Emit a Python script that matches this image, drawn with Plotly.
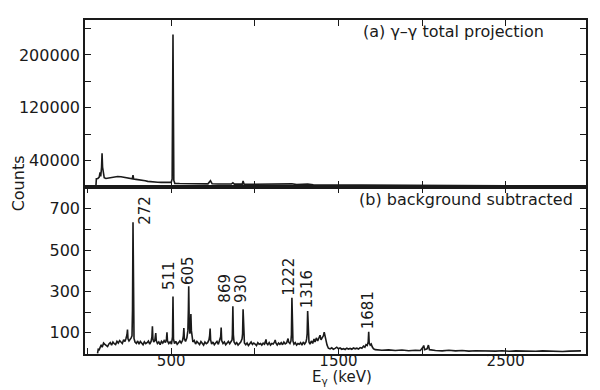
import plotly.graph_objects as go

# ---------------- data ----------------
# (a) gamma-gamma total projection
energy_a = [50, 53, 62, 70, 75, 79, 84, 87, 90, 94,
            100, 110, 125, 140, 160, 180, 200, 220, 240, 260,
            268, 272, 276, 290, 310, 330, 345, 360, 380, 400,
            420, 440, 460, 480, 500, 506, 511, 516, 522, 550,
            580, 600, 605, 640, 680, 720, 735, 745, 780, 820,
            860, 869, 878, 900, 925, 930, 936, 980, 1050, 1150,
            1222, 1250, 1316, 1350, 1450, 1550, 1681, 1750, 1900, 2100,
            2300, 2500, 2700, 2950]
counts_a = [0, 12500, 13000, 15000, 22000, 16000, 30000, 51000, 30000, 19000,
            14000, 13000, 13500, 14500, 15500, 16000, 15500, 14500, 13000, 12000,
            12500, 18000, 12000, 11500, 11000, 10500, 9500, 8500, 7800, 7500,
            7200, 7000, 6800, 6800, 7000, 12000, 231000, 10000, 5500, 5200,
            5000, 6000, 5200, 5000, 4800, 4800, 9500, 4800, 4600, 4500,
            4500, 6500, 4400, 4300, 4400, 9000, 4300, 4100, 4000, 3800,
            4800, 3600, 4300, 3400, 3200, 3000, 3200, 2800, 2600, 2400,
            2200, 2000, 1900, 1800]

# (b) background subtracted
energy_b = [60, 64, 70, 76, 82, 88, 96, 104, 112, 120,
            128, 136, 144, 152, 160, 168, 176, 184, 192, 200,
            208, 216, 224, 230, 236, 239, 242, 248, 254, 260,
            266, 269, 272, 275, 278, 284, 292, 300, 308, 316,
            324, 332, 340, 348, 356, 364, 372, 380, 385, 388,
            391, 396, 402, 405, 408, 411, 418, 426, 434, 442,
            450, 458, 466, 472, 475, 478, 486, 494, 502, 508,
            511, 514, 520, 528, 536, 544, 552, 560, 568, 573,
            576, 579, 586, 594, 600, 603, 605, 608, 612, 615,
            618, 621, 625, 630, 638, 646, 654, 662, 670, 678,
            686, 694, 702, 710, 718, 726, 730, 733, 736, 742,
            750, 758, 766, 774, 782, 790, 796, 799, 802, 810,
            818, 826, 834, 842, 850, 858, 864, 866, 869, 872,
            876, 884, 892, 900, 908, 916, 924, 927, 930, 933,
            938, 946, 954, 962, 970, 978, 986, 994, 1002, 1010,
            1018, 1026, 1034, 1042, 1050, 1058, 1064, 1067, 1070, 1078,
            1086, 1094, 1102, 1110, 1118, 1122, 1126, 1134, 1142, 1150,
            1158, 1166, 1174, 1182, 1190, 1196, 1199, 1202, 1210, 1216,
            1219, 1222, 1225, 1228, 1234, 1242, 1250, 1258, 1266, 1274,
            1282, 1290, 1298, 1306, 1310, 1313, 1316, 1319, 1324, 1330,
            1338, 1346, 1354, 1360, 1368, 1376, 1384, 1390, 1396, 1404,
            1410, 1415, 1420, 1426, 1432, 1440, 1450, 1460, 1470, 1480,
            1490, 1500, 1510, 1520, 1530, 1540, 1550, 1560, 1570, 1580,
            1590, 1600, 1610, 1620, 1630, 1640, 1650, 1658, 1665, 1672,
            1678, 1681, 1684, 1690, 1696, 1702, 1710, 1720, 1760, 1800,
            1840, 1880, 1920, 1960, 1990, 2005, 2010, 2015, 2030, 2038,
            2044, 2080, 2120, 2160, 2200, 2240, 2280, 2320, 2360, 2400,
            2440, 2480, 2520, 2560, 2600, 2640, 2680, 2720, 2760, 2800,
            2840, 2880, 2920, 2950]
counts_b = [0, 20, 18, 34, 42, 30, 50, 44, 38, 33,
            46, 52, 40, 55, 47, 43, 58, 50, 62, 55,
            48, 66, 58, 72, 90, 115, 70, 60, 66, 74,
            85, 210, 635, 190, 72, 55, 48, 60, 45, 58,
            50, 42, 56, 47, 52, 60, 45, 58, 80, 131,
            70, 55, 62, 80, 98, 62, 48, 55, 42, 58,
            50, 62, 52, 70, 102, 60, 48, 56, 45, 80,
            275, 70, 48, 58, 44, 52, 60, 50, 62, 85,
            123, 70, 58, 75, 110, 210, 325, 150, 95, 120,
            190, 110, 70, 55, 62, 45, 58, 50, 43, 57,
            48, 40, 55, 47, 52, 65, 85, 120, 65, 45,
            55, 42, 50, 58, 44, 62, 80, 125, 62, 48,
            55, 42, 50, 58, 47, 55, 65, 90, 228, 90,
            55, 45, 52, 40, 48, 55, 70, 95, 213, 80,
            50, 42, 50, 38, 47, 55, 43, 50, 45, 38,
            52, 44, 48, 40, 50, 45, 58, 68, 50, 42,
            52, 40, 48, 45, 55, 65, 50, 40, 50, 44,
            52, 42, 55, 46, 50, 60, 72, 55, 48, 60,
            90, 269, 95, 60, 45, 52, 40, 48, 44, 52,
            40, 55, 45, 55, 70, 95, 205, 85, 55, 45,
            60, 48, 70, 55, 75, 60, 80, 88, 65, 75,
            85, 103, 78, 65, 40, 25, 22, 27, 20, 24,
            30, 22, 26, 20, 23, 19, 25, 21, 24, 20,
            26, 22, 25, 21, 28, 25, 35, 30, 42, 38,
            55, 105, 50, 40, 45, 32, 22, 18, 15, 17,
            14, 16, 13, 15, 14, 30, 38, 18, 22, 40,
            18, 14, 12, 15, 12, 14, 11, 13, 12, 14,
            11, 13, 10, 12, 11, 13, 10, 12, 10, 11,
            9, 11, 10, 12]

peak_labels = ["272", "511", "605", "869", "930", "1222", "1316", "1681"]
label_energy = [342, 491, 600, 824, 918, 1205, 1314, 1682]
label_counts = [618, 302, 328, 240, 237, 274, 215, 111]

x_tick_labelled = [500, 1500, 2500]
x_tick_all = [500, 1000, 1500, 2000, 2500]
ya_tick_labelled = [40000, 120000, 200000]
yb_tick_labelled = [100, 300, 500, 700]

assert len(energy_a) == len(counts_a)
assert len(energy_b) == len(counts_b)

# ---------------- figure ----------------
FONT = "DejaVu Sans"
INK = "#1a1a1a"

fig = go.Figure()
fig.add_trace(go.Scatter(x=energy_a, y=counts_a, mode="lines",
                         line=dict(color=INK, width=1.6),
                         xaxis="x", yaxis="y", showlegend=False))
fig.add_trace(go.Scatter(x=energy_b, y=counts_b, mode="lines",
                         line=dict(color=INK, width=1.6),
                         xaxis="x2", yaxis="y2", showlegend=False))

axis_common = dict(showline=True, linecolor=INK, linewidth=1.6, mirror="ticks",
                   ticks="inside", ticklen=6, tickwidth=1.3, tickcolor=INK,
                   showgrid=False, zeroline=False, tickformat="d",
                   tickfont=dict(family=FONT, size=16, color=INK))
minor_common = dict(ticks="inside", ticklen=6, tickwidth=1.3, tickcolor=INK,
                    showgrid=False)

XR = [-15, 2980]
fig.update_layout(
    width=600, height=390,
    margin=dict(l=85, r=12, t=20, b=36),
    paper_bgcolor="white", plot_bgcolor="white",
    xaxis=dict(domain=[0, 1], anchor="y", range=XR, tickvals=x_tick_all,
               showticklabels=False, **axis_common),
    yaxis=dict(domain=[0.5, 1], anchor="x", range=[0, 253000],
               tickvals=ya_tick_labelled,
               minor=dict(tick0=0, dtick=40000, **minor_common),
               **axis_common),
    xaxis2=dict(domain=[0, 1], anchor="y2", range=XR, tickvals=x_tick_labelled,
                minor=dict(tick0=0, dtick=500, **minor_common),
                ticklabelstandoff=-8, **axis_common),
    yaxis2=dict(domain=[0, 0.5], anchor="x2", range=[-3, 805],
                tickvals=yb_tick_labelled,
                minor=dict(tick0=0, dtick=100, **minor_common),
                **axis_common),
)
fig.update_layout(xaxis2_tickfont_size=15)

annotations = []
for lab, ex, cy in zip(peak_labels, label_energy, label_counts):
    annotations.append(dict(x=ex, y=cy, xref="x2", yref="y2", text=lab,
                            textangle=-90, showarrow=False,
                            xanchor="center", yanchor="bottom",
                            borderpad=0,
                            font=dict(family=FONT, size=15, color=INK)))

annotations += [
    dict(x=0.9205, y=0.965, xref="paper", yref="paper",
         text="(a) γ–γ total projection", showarrow=False,
         xanchor="right", yanchor="middle",
         font=dict(family=FONT, size=16, color=INK)),
    dict(x=0.978, y=0.462, xref="paper", yref="paper",
         text="(b) background subtracted", showarrow=False,
         xanchor="right", yanchor="middle",
         font=dict(family=FONT, size=16, color=INK)),
    dict(x=-0.131, y=0.512, xref="paper", yref="paper", text="Counts",
         textangle=-90, showarrow=False, xanchor="center", yanchor="middle",
         font=dict(family=FONT, size=16, color=INK)),
    dict(x=0.513, y=-0.071, xref="paper", yref="paper",
         text="E<sub>γ</sub> (keV)", showarrow=False,
         xanchor="center", yanchor="middle",
         font=dict(family=FONT, size=15, color=INK)),
]
fig.update_layout(annotations=annotations)

fig.write_html("out.html")
